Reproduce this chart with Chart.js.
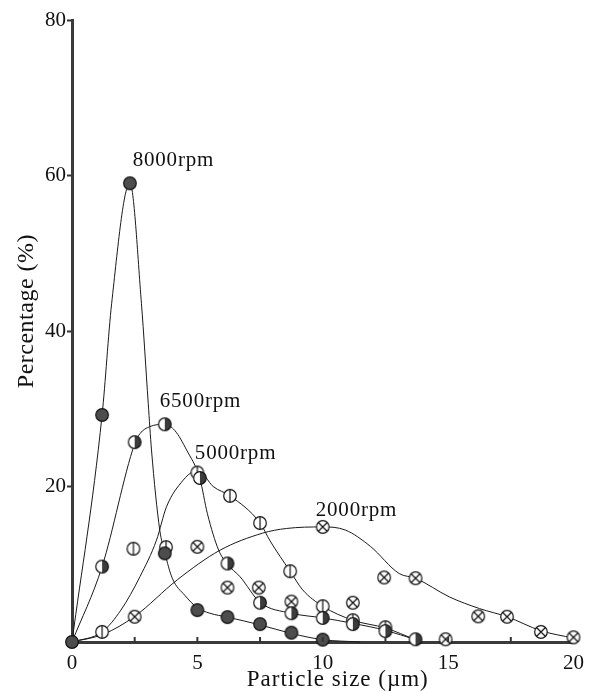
<!DOCTYPE html>
<html lang="en">
<head>
    <meta charset="UTF-8">
    <title>Particle size distribution</title>
    <script src="https://cdn.jsdelivr.net/npm/chart.js"></script>
    <style>
        body { margin: 0; background: #fff; }
    </style>
</head>
<body>
    <canvas id="psd-chart" width="593" height="692"></canvas>

    <script>
        // axis ticks
        const xTickValues = [0, 5, 10, 15, 20];
        const xMinorTicks = [2.5, 5, 7.5, 10, 12.5, 15, 17.5];
        const yTickValues = [0, 20, 40, 60, 80];

        const seriesNames = ['8000rpm', '6500rpm', '5000rpm', '2000rpm'];

        // measured points
        const pts8000x = [0, 1.2, 2.31, 3.7, 5, 6.2, 7.5, 8.75, 10];
        const pts8000y = [0, 29.2, 59.0, 11.4, 4.1, 3.2, 2.3, 1.2, 0.3];

        const pts6500x = [1.2, 2.5, 3.7, 5.1, 6.2, 7.5, 8.75, 10, 11.2, 12.5, 13.7];
        const pts6500y = [9.7, 25.7, 28.0, 21.1, 10.1, 5.05, 3.7, 3.1, 2.3, 1.4, 0.35];

        const pts5000x = [1.2, 2.45, 3.75, 5, 6.3, 7.5, 8.7, 10, 11.2, 12.5];
        const pts5000y = [1.3, 12.0, 12.2, 21.8, 18.8, 15.3, 9.1, 4.6, 2.8, 1.9];

        const pts2000x = [2.5, 5, 6.2, 7.45, 8.75, 10, 11.2, 12.45, 13.7, 14.9, 16.2, 17.35, 18.7, 20];
        const pts2000y = [3.25, 12.25, 7.0, 7.0, 5.2, 14.8, 5.05, 8.3, 8.2, 0.35, 3.3, 3.25, 1.3, 0.6];

        // fitted curves
        const fit8000x = [0, 1.2, 1.58, 2.31, 2.77, 3.04, 3.17, 3.5, 3.7, 4.0, 4.5, 5.0, 5.5, 6.2, 7.5, 8.75, 10, 11.5];
        const fit8000y = [0, 29.2, 43.5, 59, 43.5, 30.7, 24.7, 14.4, 11.5, 8.2, 6, 4.4, 3.7, 3.2, 2.2, 1.1, 0.3, 0];

        const fit6500x = [0, 1.2, 2.5, 2.71, 3.1, 3.7, 4.1, 4.57, 5.1, 5.4, 5.85, 6.2, 6.7, 7.5, 8.75, 10, 11.2, 12.5, 13.7];
        const fit6500y = [0, 9.7, 25.5, 26.8, 27.7, 28, 27.2, 24.7, 21, 16.5, 11.8, 10, 8.4, 5.1, 3.7, 3.1, 2.4, 1.5, 0.3];

        const fit5000x = [0, 1.2, 1.95, 2.71, 3.37, 3.77, 4.43, 4.83, 5.05, 5.63, 6.3, 7.5, 7.9, 8.3, 8.7, 9.2, 10, 11.2, 12.5, 13.7];
        const fit5000y = [0, 1.3, 4.1, 8.4, 13.1, 17.4, 20.8, 21.9, 22, 20, 18.8, 15.3, 13, 11, 9.1, 6.7, 4.6, 2.8, 1.8, 0.3];

        const fit2000x = [0, 1.25, 2.5, 4.2, 5.9, 7.6, 8.55, 10, 10.9, 11.9, 13.05, 13.7, 15.05, 16.25, 17.35, 18.7, 20];
        const fit2000y = [0, 1.0, 3.3, 8, 11.8, 14, 14.6, 14.8, 14.4, 12.3, 8.8, 8.2, 5.8, 4.3, 3.25, 1.45, 0.5];

        const zip = (xs, ys) => xs.map((x, i) => ({ x: x, y: ys[i] }));

        // marker glyphs drawn on small canvases
        function makeMarker(kind) {
            const c = document.createElement('canvas');
            c.width = 16; c.height = 16;
            const g = c.getContext('2d');
            const r = 6.3;
            g.lineWidth = 1.2;
            g.strokeStyle = '#111';
            g.beginPath();
            g.arc(8, 8, r, 0, Math.PI * 2);
            g.fillStyle = kind === 'filled' ? '#4d4d4d' : '#fff';
            g.fill();
            if (kind === 'half') {
                g.beginPath();
                g.arc(8, 8, r, -Math.PI / 2, Math.PI / 2);
                g.closePath();
                g.fillStyle = '#3c3c3c';
                g.fill();
            }
            g.beginPath();
            g.arc(8, 8, r, 0, Math.PI * 2);
            g.stroke();
            if (kind === 'bar') {
                g.beginPath();
                g.moveTo(8, 8 - r); g.lineTo(8, 8 + r);
                g.stroke();
            }
            if (kind === 'cross') {
                const d = r * 0.72;
                g.beginPath();
                g.moveTo(8 - d, 8 - d); g.lineTo(8 + d, 8 + d);
                g.moveTo(8 + d, 8 - d); g.lineTo(8 - d, 8 + d);
                g.stroke();
            }
            return c;
        }

        function markerSet(label, xs, ys, kind, order) {
            return {
                label: label,
                data: zip(xs, ys),
                showLine: false,
                pointStyle: makeMarker(kind),
                pointRadius: 7,
                order: order
            };
        }

        function curveSet(label, xs, ys) {
            return {
                label: label + ' fit',
                data: zip(xs, ys),
                showLine: true,
                borderColor: '#1a1a1a',
                borderWidth: 1,
                pointRadius: 0,
                cubicInterpolationMode: 'monotone',
                order: 10
            };
        }

        const serif = '"Liberation Serif", "Times New Roman", serif';

        const chartText = {
            id: 'chartText',
            afterDraw(chart) {
                const ctx = chart.ctx;
                const xs = chart.scales.x, ys = chart.scales.y;
                const area = chart.chartArea;
                ctx.save();
                ctx.fillStyle = '#111';
                ctx.strokeStyle = '#333';

                // small inward ticks on the x axis
                ctx.lineWidth = 2;
                xMinorTicks.forEach(v => {
                    const px = xs.getPixelForValue(v);
                    ctx.beginPath();
                    ctx.moveTo(px, area.bottom);
                    ctx.lineTo(px, area.bottom - 5);
                    ctx.stroke();
                });

                // curve labels
                ctx.font = '21px ' + serif;
                ctx.letterSpacing = '0.8px';
                ctx.textAlign = 'left';
                ctx.textBaseline = 'alphabetic';
                const anchors = [[2.42, 61.2], [3.5, 30.2], [4.9, 23.5], [9.72, 16.2]];
                seriesNames.forEach((name, i) => {
                    ctx.fillText(name, xs.getPixelForValue(anchors[i][0]), ys.getPixelForValue(anchors[i][1]));
                });

                // axis titles
                ctx.font = '23px ' + serif;
                ctx.letterSpacing = '1px';
                ctx.textAlign = 'center';
                ctx.fillText('Particle size (\u00b5m)', area.left + (area.right - area.left) * 0.53, 686);

                ctx.translate(33, area.top + (area.bottom - area.top) * 0.468);
                ctx.rotate(-Math.PI / 2);
                ctx.font = '24px ' + serif;
                ctx.letterSpacing = '0.5px';
                ctx.fillText('Percentage (%)', 0, 0);
                ctx.restore();
            }
        };

        const ctx = document.getElementById('psd-chart').getContext('2d');
        new Chart(ctx, {
            type: 'scatter',
            data: {
                datasets: [
                    markerSet(seriesNames[0], pts8000x, pts8000y, 'filled', 1),
                    markerSet(seriesNames[1], pts6500x, pts6500y, 'half', 2),
                    markerSet(seriesNames[2], pts5000x, pts5000y, 'bar', 3),
                    markerSet(seriesNames[3], pts2000x, pts2000y, 'cross', 4),
                    curveSet(seriesNames[0], fit8000x, fit8000y),
                    curveSet(seriesNames[1], fit6500x, fit6500y),
                    curveSet(seriesNames[2], fit5000x, fit5000y),
                    curveSet(seriesNames[3], fit2000x, fit2000y)
                ]
            },
            options: {
                responsive: false,
                animation: false,
                clip: false,
                layout: { padding: { top: 20, right: 19, left: 0, bottom: 0 } },
                plugins: {
                    legend: { display: false },
                    tooltip: { enabled: false }
                },
                scales: {
                    x: {
                        type: 'linear',
                        min: 0,
                        max: 20,
                        afterBuildTicks: scale => { scale.ticks = xTickValues.map(v => ({ value: v })); },
                        afterFit: scale => { scale.height = 50; },
                        grid: { display: false, drawTicks: false },
                        border: { color: '#3a3a3a', width: 3 },
                        ticks: {
                            color: '#111',
                            padding: 9,
                            maxRotation: 0,
                            font: { family: serif, size: 21 }
                        }
                    },
                    y: {
                        min: 0,
                        max: 80,
                        afterBuildTicks: scale => { scale.ticks = yTickValues.map(v => ({ value: v })); },
                        afterFit: scale => { scale.width = 72; },
                        grid: { drawOnChartArea: false, tickLength: 5, tickWidth: 2, tickColor: '#333' },
                        border: { color: '#3a3a3a', width: 3 },
                        ticks: {
                            color: '#111',
                            padding: 1,
                            font: { family: serif, size: 21 },
                            callback: v => (v === 0 ? '' : v)
                        }
                    }
                }
            },
            plugins: [chartText]
        });
    </script>
</body>
</html>
